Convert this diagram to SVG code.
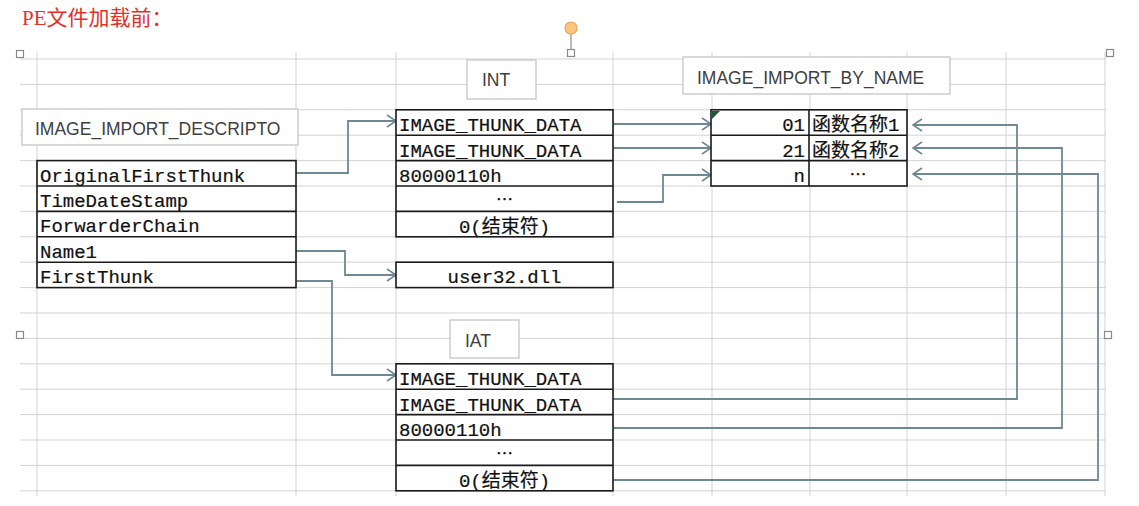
<svg xmlns="http://www.w3.org/2000/svg" width="1139" height="506" viewBox="0 0 1139 506">
<style>
.grid line{stroke:#d3d3d3;stroke-width:1}
.lbl rect{fill:#fff;stroke:#cdcdcd;stroke-width:1.5}
.lbl text{font-family:"Liberation Sans",Arial,sans-serif;font-size:17.5px;fill:#404040}
.tbl rect{fill:#fff;stroke:#1a1a1a;stroke-width:1.6}
.tbl line{stroke:#1a1a1a;stroke-width:1.6}
.tbl text{font-family:"Liberation Mono","Noto Sans CJK SC",monospace;font-size:19px;fill:#111;stroke:#111;stroke-width:0.2}
.tbl .c{text-anchor:middle}
.tbl .r{text-anchor:end}
.tbl .el{font-family:"Noto Sans CJK SC",sans-serif;font-size:17px}
.conn path{fill:none;stroke:#6f8896;stroke-width:1.8}
.handle{fill:#fff;stroke:#8a8a8a;stroke-width:1.2}
</style>
<defs>
<marker id="arr" markerUnits="userSpaceOnUse" markerWidth="14" markerHeight="16" refX="10" refY="7" orient="auto">
<path d="M1,1 L10,7 L1,13" fill="none" stroke="#6f8896" stroke-width="1.6"/>
</marker>
</defs>
<rect width="1139" height="506" fill="#fff"/>
<text x="22" y="25" font-family="'Liberation Serif','Noto Sans CJK SC',serif" font-size="21" fill="#e5302a">PE文件加载前：</text>
<g class="grid">
<line x1="37" y1="52" x2="37" y2="496"/><line x1="296" y1="52" x2="296" y2="496"/><line x1="396" y1="52" x2="396" y2="496"/><line x1="613" y1="52" x2="613" y2="496"/><line x1="712" y1="52" x2="712" y2="496"/><line x1="810" y1="52" x2="810" y2="496"/><line x1="907" y1="52" x2="907" y2="496"/><line x1="1006" y1="52" x2="1006" y2="496"/><line x1="1105" y1="52" x2="1105" y2="496"/>
<line x1="20" y1="59" x2="1106" y2="59"/><line x1="20" y1="84.4" x2="1106" y2="84.4"/><line x1="20" y1="109.8" x2="1106" y2="109.8"/><line x1="20" y1="135.2" x2="1106" y2="135.2"/><line x1="20" y1="160.6" x2="1106" y2="160.6"/><line x1="20" y1="186" x2="1106" y2="186"/><line x1="20" y1="211.4" x2="1106" y2="211.4"/><line x1="20" y1="236.8" x2="1106" y2="236.8"/><line x1="20" y1="262.2" x2="1106" y2="262.2"/><line x1="20" y1="287.6" x2="1106" y2="287.6"/><line x1="20" y1="313" x2="1106" y2="313"/><line x1="20" y1="338.4" x2="1106" y2="338.4"/><line x1="20" y1="363.8" x2="1106" y2="363.8"/><line x1="20" y1="389.2" x2="1106" y2="389.2"/><line x1="20" y1="414.6" x2="1106" y2="414.6"/><line x1="20" y1="440" x2="1106" y2="440"/><line x1="20" y1="465.4" x2="1106" y2="465.4"/><line x1="20" y1="490.8" x2="1106" y2="490.8"/>
</g>
<g id="handles">
<rect class="handle" x="16.5" y="50.5" width="7" height="7"/>
<rect class="handle" x="567.5" y="49.5" width="7" height="7"/>
<rect class="handle" x="1106.5" y="49.5" width="7" height="7"/>
<rect class="handle" x="16.5" y="331.5" width="7" height="7"/>
<rect class="handle" x="1104.5" y="331.5" width="7" height="7"/>
<line x1="571" y1="34" x2="571" y2="49.5" stroke="#8a8a8a" stroke-width="1.2"/>
<circle cx="571" cy="28" r="6" fill="#ffc47e" stroke="#e9a45a" stroke-width="1.2"/>
</g>
<g id="connectors" class="conn">
<path d="M296,173 H348 V121 H396" marker-end="url(#arr)"/>
<path d="M296,251 H345 V275 H396" marker-end="url(#arr)"/>
<path d="M296,281 H332 V375 H396" marker-end="url(#arr)"/>
<path d="M613,124 H711" marker-end="url(#arr)"/>
<path d="M613,148 H711" marker-end="url(#arr)"/>
<path d="M617,202 H663 V175 H711" marker-end="url(#arr)"/>
<path d="M613,399 H1017 V125 H913" marker-end="url(#arr)"/>
<path d="M613,428 H1062 V148 H913" marker-end="url(#arr)"/>
<path d="M613,480 H1098 V174 H913" marker-end="url(#arr)"/>
</g>
<g id="label-descriptor" class="lbl"><rect x="22" y="109" width="276" height="36"/><text x="35" y="135">IMAGE_IMPORT_DESCRIPTO</text></g>
<g id="label-int" class="lbl"><rect x="467" y="60" width="69" height="39"/><text x="482" y="86">INT</text></g>
<g id="label-byname" class="lbl"><rect x="683" y="57" width="267" height="37"/><text x="697" y="84">IMAGE_IMPORT_BY_NAME</text></g>
<g id="label-iat" class="lbl"><rect x="450" y="320" width="69" height="38"/><text x="465" y="347">IAT</text></g>
<g id="descriptor" class="tbl">
<rect x="37" y="160.6" width="259" height="127"/>
<line x1="37" y1="186" x2="296" y2="186"/><line x1="37" y1="211.4" x2="296" y2="211.4"/><line x1="37" y1="236.8" x2="296" y2="236.8"/><line x1="37" y1="262.2" x2="296" y2="262.2"/>
<text x="40" y="181.6">OriginalFirstThunk</text>
<text x="40" y="207">TimeDateStamp</text>
<text x="40" y="232.4">ForwarderChain</text>
<text x="40" y="257.8">Name1</text>
<text x="40" y="283.2">FirstThunk</text>
</g>
<g id="int" class="tbl">
<rect x="396" y="109.8" width="217" height="127"/>
<line x1="396" y1="135.2" x2="613" y2="135.2"/><line x1="396" y1="160.6" x2="613" y2="160.6"/><line x1="396" y1="186" x2="613" y2="186"/><line x1="396" y1="211.4" x2="613" y2="211.4"/>
<text x="399" y="131">IMAGE_THUNK_DATA</text>
<text x="399" y="156.5">IMAGE_THUNK_DATA</text>
<text x="399" y="182">80000110h</text>
<text class="c el" x="504.5" y="206">…</text>
<text class="c" x="504.5" y="232.5">0(结束符)</text>
</g>
<g id="user32" class="tbl">
<rect x="396" y="262.2" width="217" height="25.4"/>
<text class="c" x="504.5" y="283">user32.dll</text>
</g>
<g id="byname" class="tbl">
<rect x="711" y="109.8" width="196" height="76.2"/>
<line x1="711" y1="135.2" x2="907" y2="135.2"/><line x1="711" y1="160.6" x2="907" y2="160.6"/><line x1="809" y1="109.8" x2="809" y2="186"/>
<polygon points="712,111 720,111 712,119" fill="#1e5a34" stroke="none"/>
<text class="r" x="805" y="131">01</text><text x="812" y="131">函数名称1</text>
<text class="r" x="805" y="156.5">21</text><text x="812" y="156.5">函数名称2</text>
<text class="r" x="805" y="182">n</text><text class="c el" x="858" y="181">…</text>
</g>
<g id="iat" class="tbl">
<rect x="396" y="363.8" width="217" height="127"/>
<line x1="396" y1="389.2" x2="613" y2="389.2"/><line x1="396" y1="414.6" x2="613" y2="414.6"/><line x1="396" y1="440" x2="613" y2="440"/><line x1="396" y1="465.4" x2="613" y2="465.4"/>
<text x="399" y="385">IMAGE_THUNK_DATA</text>
<text x="399" y="410.5">IMAGE_THUNK_DATA</text>
<text x="399" y="436">80000110h</text>
<text class="c el" x="504.5" y="460">…</text>
<text class="c" x="504.5" y="486.5">0(结束符)</text>
</g>
</svg>
